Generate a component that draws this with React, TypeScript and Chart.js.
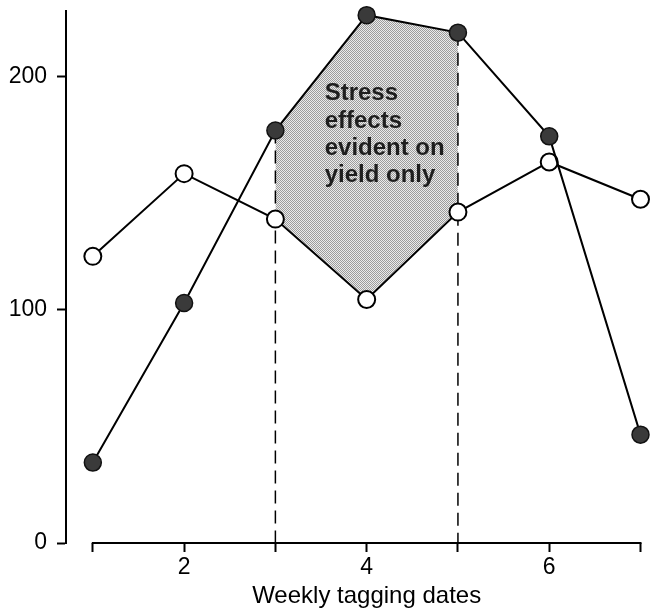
import { useEffect, useRef } from 'react';
import { Chart, registerables } from 'chart.js';

Chart.register(...registerables);

// ---- data ----
const WEEKS = [1, 2, 3, 4, 5, 6, 7];
const FILLED_SERIES = [34.5, 103, 177, 226.5, 219, 174.5, 46.5];
const OPEN_SERIES = [123, 158.5, 139, 104.5, 142, 163.5, 147.5];
const X_TICKS = [1, 2, 3, 4, 5, 6, 7];
const X_TICK_LABELS = [2, 4, 6];
const Y_TICKS = [0, 100, 200];
const STRESS_START = 3;
const STRESS_END = 5;
const ANNOTATION_LINES = ['Stress', 'effects', 'evident on', 'yield only'];
const ANNOTATION_AT = { x: 3.54, y: 190 };
const X_TITLE = 'Weekly tagging dates';

const FONT = '"Liberation Sans", Arial, Helvetica, sans-serif';

export default function App() {
  const ref = useRef<HTMLCanvasElement>(null);

  useEffect(() => {
    const canvas = ref.current as HTMLCanvasElement;
    Chart.defaults.font.family = FONT;
    Chart.defaults.color = '#000';

    const pc = document.createElement('canvas');
    pc.width = 2;
    pc.height = 2;
    const g = pc.getContext('2d') as CanvasRenderingContext2D;
    g.fillStyle = '#ebebeb';
    g.fillRect(0, 0, 2, 2);
    g.fillStyle = '#9c9c9c';
    g.fillRect(0, 0, 1, 1);
    g.fillRect(1, 1, 1, 1);
    const pattern = (canvas.getContext('2d') as CanvasRenderingContext2D).createPattern(pc, 'repeat');

    const pts = (ys: number[]) => WEEKS.map((x, i) => ({ x, y: ys[i] }));
    const inStress = (ys: number[]) =>
      WEEKS.map((x, i) => ({ x, y: ys[i] })).filter((p) => p.x >= STRESS_START && p.x <= STRESS_END);
    const filledAt = (w: number) => FILLED_SERIES[WEEKS.indexOf(w)];

    const decor = {
      id: 'decor',
      afterDatasetsDraw(chart: any) {
        const { ctx, scales } = chart;
        const xs = scales.x;
        const ys = scales.y;
        ctx.save();
        ctx.font = `bold 24px ${FONT}`;
        ctx.fillStyle = '#1e1e1e';
        ctx.textAlign = 'left';
        ctx.textBaseline = 'alphabetic';
        const x0 = xs.getPixelForValue(ANNOTATION_AT.x);
        const y0 = ys.getPixelForValue(ANNOTATION_AT.y);
        ANNOTATION_LINES.forEach((t, i) => ctx.fillText(t, x0, y0 + i * 27.4));
        ctx.restore();
      },
      afterDraw(chart: any) {
        const { ctx, scales, chartArea } = chart;
        const xs = scales.x;
        ctx.save();
        ctx.strokeStyle = '#000';
        ctx.lineWidth = 2;
        ctx.beginPath();
        ctx.moveTo(xs.getPixelForValue(X_TICKS[0]) - 1, chartArea.bottom);
        ctx.lineTo(xs.getPixelForValue(X_TICKS[X_TICKS.length - 1]) + 1, chartArea.bottom);
        ctx.stroke();
        ctx.font = `24px ${FONT}`;
        ctx.fillStyle = '#000';
        ctx.textAlign = 'center';
        ctx.textBaseline = 'alphabetic';
        const cx = (xs.getPixelForValue(X_TICKS[0]) + xs.getPixelForValue(X_TICKS[X_TICKS.length - 1])) / 2;
        ctx.fillText(X_TITLE, cx, chartArea.bottom + 60);
        ctx.restore();
      },
    };

    const chart = new Chart(canvas, {
      type: 'line',
      data: {
        datasets: [
          {
            data: pts(FILLED_SERIES),
            borderColor: '#000',
            borderWidth: 2,
            pointRadius: 8.5,
            pointBackgroundColor: '#3a3a3a',
            pointBorderColor: '#111',
            pointBorderWidth: 1.5,
            clip: false,
            order: 1,
          },
          {
            data: pts(OPEN_SERIES),
            borderColor: '#000',
            borderWidth: 2,
            pointRadius: 8.5,
            pointBackgroundColor: '#fff',
            pointBorderColor: '#000',
            pointBorderWidth: 2,
            clip: false,
            order: 1,
          },
          {
            data: [
              { x: STRESS_START, y: filledAt(STRESS_START) },
              { x: STRESS_START, y: 0 },
            ],
            borderColor: '#000',
            borderWidth: 1.5,
            borderDash: [13, 7],
            pointRadius: 0,
            order: 3,
          },
          {
            data: [
              { x: STRESS_END, y: filledAt(STRESS_END) },
              { x: STRESS_END, y: 0 },
            ],
            borderColor: '#000',
            borderWidth: 1.5,
            borderDash: [13, 7],
            pointRadius: 0,
            order: 3,
          },
          {
            data: inStress(FILLED_SERIES),
            borderColor: 'rgba(0,0,0,0)',
            borderWidth: 0,
            pointRadius: 0,
            backgroundColor: pattern as any,
            fill: 5,
            order: 5,
          },
          {
            data: inStress(OPEN_SERIES),
            borderColor: 'rgba(0,0,0,0)',
            borderWidth: 0,
            pointRadius: 0,
            fill: false,
            order: 6,
          },
        ] as any,
      },
      options: {
        animation: false,
        responsive: false,
        events: [],
        layout: { padding: { top: 8, right: 7, left: 0, bottom: 0 } },
        plugins: { legend: { display: false }, tooltip: { enabled: false } },
        scales: {
          x: {
            type: 'linear',
            min: 0.706,
            max: 7,
            afterBuildTicks: (s: any) => {
              s.ticks = X_TICKS.map((v) => ({ value: v }));
            },
            afterFit: (s: any) => {
              s.height = 69;
              s.paddingLeft = 0;
              s.paddingRight = 0;
              s.paddingTop = 0;
              s.paddingBottom = 0;
            },
            border: { display: false },
            grid: { drawOnChartArea: false, drawTicks: true, tickLength: 9, tickWidth: 2, tickColor: '#000' },
            ticks: {
              autoSkip: false,
              maxRotation: 0,
              padding: 2,
              color: '#000',
              font: { size: 23 },
              callback: (v: any) => (X_TICK_LABELS.includes(Number(v)) ? String(v) : ''),
            },
          },
          y: {
            type: 'linear',
            min: 0,
            max: 228.5,
            afterBuildTicks: (s: any) => {
              s.ticks = Y_TICKS.map((v) => ({ value: v }));
            },
            afterFit: (s: any) => {
              s.width = 66;
              s.paddingLeft = 0;
              s.paddingRight = 0;
              s.paddingTop = 0;
              s.paddingBottom = 0;
            },
            border: { display: true, color: '#000', width: 2 },
            grid: { drawOnChartArea: false, drawTicks: true, tickLength: 9, tickWidth: 2, tickColor: '#000' },
            ticks: { padding: 10, color: '#000', font: { size: 23 } },
          },
        },
      } as any,
      plugins: [decor],
    });

    return () => chart.destroy();
  }, []);

  return (
    <canvas
      ref={ref}
      width={651}
      height={612}
      style={{ position: 'absolute', left: 0, top: 0, display: 'block' }}
    />
  );
}
